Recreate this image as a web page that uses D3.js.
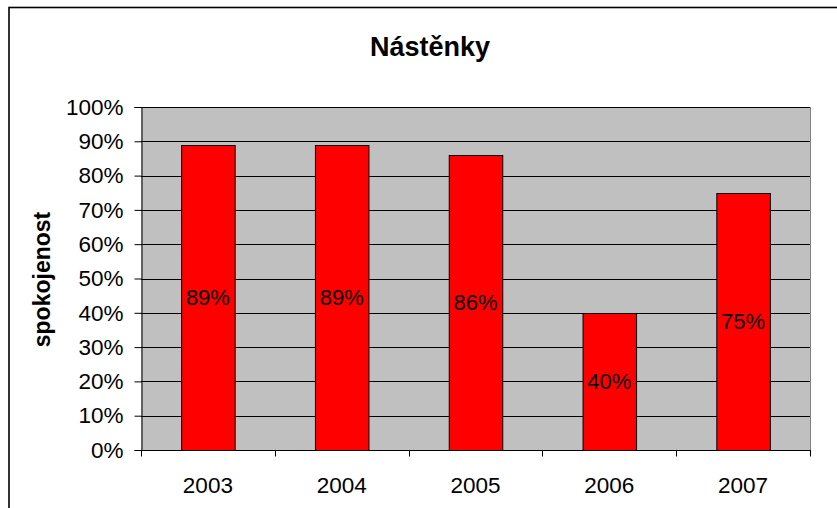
<!DOCTYPE html>
<html>
<head>
<meta charset="utf-8">
<script src="https://cdn.jsdelivr.net/npm/d3@7"></script>
<style>
  html, body { margin: 0; padding: 0; background: #fff; }
  svg { display: block; font-family: Arial, "Liberation Sans", sans-serif; }
</style>
</head>
<body>
<svg id="chart" width="837" height="508"></svg>
<script>
// Satisfaction with notice boards by year
const years = ["2003", "2004", "2005", "2006", "2007"];
const satisfaction = [0.89, 0.89, 0.86, 0.40, 0.75];
const yTicks = [0, 0.1, 0.2, 0.3, 0.4, 0.5, 0.6, 0.7, 0.8, 0.9, 1.0];
const chartTitle = "Nástěnky";
const yTitle = "spokojenost";

const svg = d3.select("#chart");
const plot = { left: 141, right: 810, top: 107, bottom: 450 };
const fontStack = "Arial, 'Liberation Sans', sans-serif";

// outer chart frame
svg.append("rect")
  .attr("x", 9).attr("y", 7.5)
  .attr("width", 900).attr("height", 600)
  .attr("fill", "#fff").attr("stroke", "#000").attr("stroke-width", 1.6);

const x = d3.scaleBand().domain(years).range([plot.left, plot.right]).paddingInner(0.6).paddingOuter(0.3);
const band = d3.scaleBand().domain(years).range([plot.left, plot.right]);
const y = d3.scaleLinear().domain([0, 1]).range([plot.bottom, plot.top]);

// plot background
svg.append("rect")
  .attr("x", plot.left).attr("y", plot.top)
  .attr("width", plot.right - plot.left).attr("height", plot.bottom - plot.top)
  .attr("fill", "#c0c0c0");

// right edge of plot
svg.append("line")
  .attr("x1", plot.right + 0.5).attr("x2", plot.right + 0.5)
  .attr("y1", plot.top).attr("y2", plot.bottom)
  .attr("stroke", "#808080").attr("stroke-width", 1);

// horizontal gridlines
svg.append("g").selectAll("line")
  .data(yTicks.filter(d => d > 0))
  .join("line")
  .attr("x1", plot.left).attr("x2", plot.right)
  .attr("y1", d => Math.round(y(d)) + 0.5).attr("y2", d => Math.round(y(d)) + 0.5)
  .attr("stroke", "#000").attr("stroke-width", 1);

const rows = years.map((yr, i) => ({ yr, v: satisfaction[i] }));

// bars
svg.append("g").selectAll("rect")
  .data(rows)
  .join("rect")
  .attr("x", d => x(d.yr) + 0.5)
  .attr("y", d => Math.round(y(d.v)) + 0.5)
  .attr("width", x.bandwidth())
  .attr("height", d => plot.bottom - Math.round(y(d.v)))
  .attr("fill", "#ff0000")
  .attr("stroke", "#000").attr("stroke-width", 1);

// value labels, centred in each bar
svg.append("g").selectAll("text")
  .data(rows)
  .join("text")
  .attr("x", d => x(d.yr) + x.bandwidth() / 2)
  .attr("y", d => (y(d.v) + plot.bottom) / 2)
  .attr("dy", "0.36em")
  .attr("text-anchor", "middle")
  .attr("font-size", 22)
  .attr("fill", "#000")
  .text(d => d3.format(".0%")(d.v));

// y axis
const yAxis = d3.axisLeft(y)
  .tickValues(yTicks)
  .tickFormat(d3.format(".0%"))
  .tickSize(7)
  .tickPadding(11);
const gy = svg.append("g")
  .attr("transform", `translate(${plot.left + 0.5},0)`)
  .call(yAxis);
gy.select(".domain").attr("stroke", "#000");
gy.selectAll(".tick text")
  .attr("font-size", 22.5)
  .attr("fill", "#000")
  .attr("font-family", fontStack);
gy.selectAll(".tick line").attr("stroke", "#000");

// x axis with ticks at category boundaries
const gx = svg.append("g")
  .attr("transform", `translate(0,${plot.bottom + 0.5})`);
gx.append("line")
  .attr("x1", plot.left).attr("x2", plot.right + 1)
  .attr("stroke", "#000");
const bounds = years.map(yr => band(yr)).concat([plot.right]);
gx.selectAll("line.tk")
  .data(bounds)
  .join("line")
  .attr("class", "tk")
  .attr("x1", d => Math.round(d) + 0.5).attr("x2", d => Math.round(d) + 0.5)
  .attr("y1", 0).attr("y2", 6)
  .attr("stroke", "#000");
gx.selectAll("text")
  .data(years)
  .join("text")
  .attr("x", d => band(d) + band.bandwidth() / 2)
  .attr("y", 42)
  .attr("text-anchor", "middle")
  .attr("font-size", 22.5)
  .attr("fill", "#000")
  .text(d => d);

// titles
svg.append("text")
  .attr("x", 430).attr("y", 56)
  .attr("text-anchor", "middle")
  .attr("font-size", 27).attr("font-weight", "bold")
  .text(chartTitle);

svg.append("text")
  .attr("transform", `translate(50,${(plot.top + plot.bottom) / 2 + 1}) rotate(-90)`)
  .attr("text-anchor", "middle")
  .attr("font-size", 23).attr("font-weight", "bold")
  .text(yTitle);
</script>
</body>
</html>
